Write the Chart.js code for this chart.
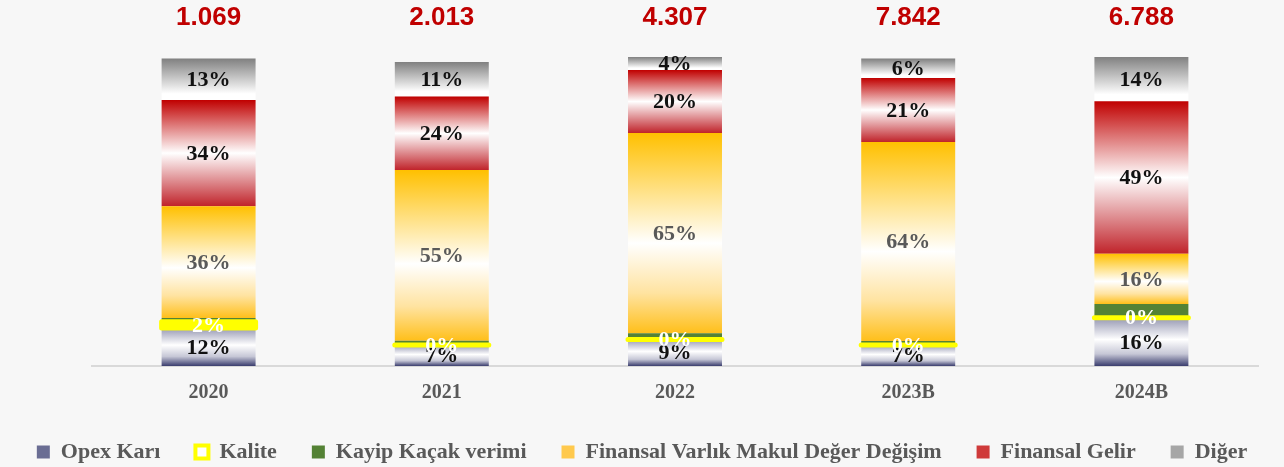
<!DOCTYPE html>
<html>
<head>
<meta charset="utf-8">
<script src="https://cdn.jsdelivr.net/npm/chart.js@4.4.1/dist/chart.umd.min.js"></script>
<style>
  html, body { margin:0; padding:0; background:#f7f7f7; }
  #wrap { width:1284px; height:467px; position:relative; }
</style>
</head>
<body>
<div id="wrap"><canvas id="grafico"></canvas></div>
<script>
// ── DATOS ──
const years  = ['2020','2021','2022','2023B','2024B'];
const totals = ['1.069','2.013','4.307','7.842','6.788'];
const series = ['Opex Karı','Kalite','Kayip Kaçak verimi','Finansal Varlık Makul Değer Değişim','Finansal Gelir','Diğer'];
const opex   = [12.3, 6.8, 8.6, 6.8, 15.6];
const kalite = [2.0, 0, 0, 0, 0];
const kayip  = [1.2, 1.4, 2.0, 1.3, 4.5];
const varlik = [36.2, 55.2, 64.8, 64.4, 16.2];
const gelir  = [34.4, 23.8, 20.4, 20.7, 49.4];
const diger  = [13.4, 11.2, 4.2, 6.3, 14.4];

// ── ESTILO ──
const P = { navy:'#3a3d6e', yellow:'#ffff00', green:'#548235', orange:'#ffc000', red:'#c00000', gray:'#808080', text:'#595959' };
const legendFill = ['#6a6d93', '#ffffff', P.green, '#ffc94d', '#cf3a3a', '#a6a6a6'];
const labelColor = ['#111', '#fff', null, P.text, '#111', '#111'];

// gradiente vertical por segmento, calculado con la escala y
function grad(stops) {
  return c => {
    const ch = c.chart, y = ch.scales.y;
    if (!y || c.type !== 'data') return stops[0][1];
    const ds = ch.data.datasets;
    let base = 0;
    for (let k = 0; k < c.datasetIndex; k++) base += ds[k].data[c.dataIndex];
    const v = ds[c.datasetIndex].data[c.dataIndex];
    const top = y.getPixelForValue(base + v), bot = y.getPixelForValue(base);
    if (!isFinite(top) || !isFinite(bot) || bot - top < 1) return stops[0][1];
    const g = ch.ctx.createLinearGradient(0, top, 0, bot);
    stops.forEach(s => g.addColorStop(s[0], s[1]));
    return g;
  };
}

const G = {
  opex:   grad([[0,'#9597b2'],[0.45,'#ffffff'],[0.75,'#c6c7d6'],[1,P.navy]]),
  varlik: grad([[0,P.orange],[0.55,'#ffffff'],[0.8,'#ffe3a0'],[1,'#ffbf1a']]),
  gelir:  grad([[0,P.red],[0.5,'#ffffff'],[1,'#c0232a']]),
  diger:  grad([[0,P.gray],[0.85,'#ffffff'],[1,'#ffffff']])
};

// ── PLUGIN: Kalite, etiquetas y totales ──
const marcas = {
  id:'marcas',
  afterDatasetsDraw(ch) {
    const ctx = ch.ctx;
    ctx.save();
    // Kalite: banda amarilla
    ch.getDatasetMeta(1).data.forEach(b => {
      const w = b.width, x = b.x - w/2, y = Math.min(b.y, b.base), h = Math.abs(b.base - b.y);
      ctx.fillStyle = P.yellow; ctx.fillRect(x, y, w, h);
      ctx.strokeStyle = P.yellow; ctx.lineWidth = 5; ctx.lineCap = 'round'; ctx.lineJoin = 'round';
      ctx.strokeRect(x, y, w, h);
    });
    // porcentajes
    ctx.font = 'bold 22px "Liberation Serif"';
    ctx.textAlign = 'center'; ctx.textBaseline = 'middle';
    ch.data.datasets.forEach((ds, i) => {
      if (!labelColor[i]) return;
      ch.getDatasetMeta(i).data.forEach((b, j) => {
        ctx.fillStyle = labelColor[i];
        ctx.fillText(Math.round(ds.data[j]) + '%', b.x, (b.y + b.base)/2 + 1);
      });
    });
    // totales arriba
    ctx.font = 'bold 26px "Liberation Sans"';
    ctx.fillStyle = P.red;
    const xs = ch.scales.x;
    totals.forEach((t, j) => ctx.fillText(t, xs.getPixelForValue(j), 18));
    ctx.restore();
  }
};

const vals = [opex, kalite, kayip, varlik, gelir, diger];
const fills = [G.opex, 'rgba(0,0,0,0)', P.green, G.varlik, G.gelir, G.diger];

// ejes vacíos que sólo reservan margen
const margen = (pos, w) => ({ position:pos, display:true, min:0, max:100, stacked:true,
  ticks:{ display:false }, grid:{ display:false, drawTicks:false }, border:{ display:false },
  afterFit: s => { s.width = w; } });

new Chart(document.getElementById('grafico'), {
  type:'bar',
  data:{
    labels: years,
    datasets: series.map((s, i) => ({
      label: s, data: vals[i], backgroundColor: fills[i], borderWidth: 0,
      categoryPercentage: 1, barPercentage: 0.403
    }))
  },
  options:{
    responsive:true, maintainAspectRatio:false, animation:false,
    layout:{ padding:{ left:0, right:0, top:57, bottom:-6 } },
    plugins:{
      tooltip:{ enabled:false },
      legend:{ position:'bottom',
        labels:{ boxWidth:13, boxHeight:13, padding:35, color:P.text,
          font:{ family:'Liberation Serif', size:22, weight:'bold' },
          generateLabels: ch => ch.data.datasets.map((ds, i) => ({
            text: ds.label, datasetIndex: i, fillStyle: legendFill[i],
            strokeStyle: i === 1 ? P.yellow : legendFill[i], lineWidth: i === 1 ? 4 : 0,
            fontColor: P.text
          })) } }
    },
    scales:{
      x:{ stacked:true, grid:{ display:false, drawTicks:false },
        border:{ display:true, color:'#d9d9d9', width:2 },
        ticks:{ color:P.text, padding:15, font:{ family:'Liberation Serif', size:20, weight:'bold' } },
        afterFit: s => { s.height = 40; } },
      y:  margen('left', 92),
      y2: margen('right', 26)
    }
  },
  plugins:[marcas]
});
</script>
</body>
</html>
